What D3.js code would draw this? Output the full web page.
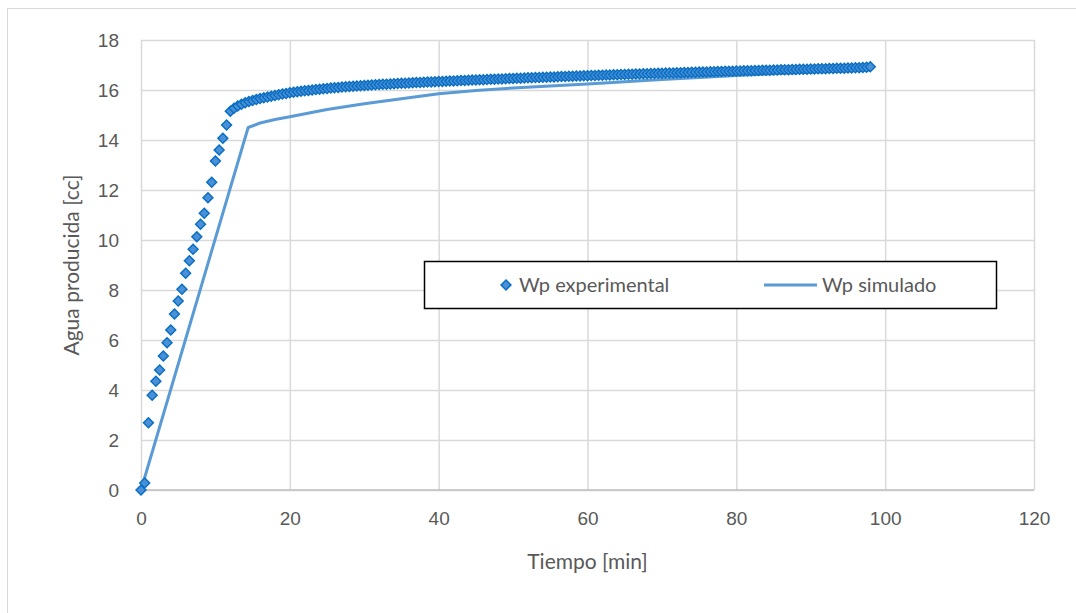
<!DOCTYPE html>
<html>
<head>
<meta charset="utf-8">
<script src="https://cdn.jsdelivr.net/npm/d3@7"></script>
<style>
    body { margin: 0; background: #fff; }
    svg { display: block; font-family: Lato, 'Open Sans', sans-serif; }
    .tick text { fill: #595959; font-size: 19px; }
    .grid line { stroke: #d9d9d9; stroke-width: 1.5; }
    .axis-title { fill: #595959; font-size: 21px; }
    .legend-label { fill: #595959; font-size: 20px; }
</style>
</head>
<body>
<div id="chart"></div>
<script>
// tiempo [min] y agua producida [cc]
const expTime = [
    0, 0.5, 1, 1.5, 2, 2.5, 3, 3.5, 4, 4.5,
    5, 5.5, 6, 6.5, 7, 7.5, 8, 8.5, 9, 9.5,
    10, 10.5, 11, 11.5,
    12, 12.5, 13, 13.5, 14, 14.5, 15, 15.5, 16, 16.5,
    17, 17.5, 18, 18.5, 19, 19.5, 20, 20.5, 21, 21.5,
    22, 22.5, 23, 23.5, 24, 24.5, 25, 25.5, 26, 26.5,
    27, 27.5, 28, 28.5, 29, 29.5, 30, 30.5, 31, 31.5,
    32, 32.5, 33, 33.5, 34, 34.5, 35, 35.5, 36, 36.5,
    37, 37.5, 38, 38.5, 39, 39.5, 40, 40.5, 41, 41.5,
    42, 42.5, 43, 43.5, 44, 44.5, 45, 45.5, 46, 46.5,
    47, 47.5, 48, 48.5, 49, 49.5, 50, 50.5, 51, 51.5,
    52, 52.5, 53, 53.5, 54, 54.5, 55, 55.5, 56, 56.5,
    57, 57.5, 58, 58.5, 59, 59.5, 60, 60.5, 61, 61.5,
    62, 62.5, 63, 63.5, 64, 64.5, 65, 65.5, 66, 66.5,
    67, 67.5, 68, 68.5, 69, 69.5, 70, 70.5, 71, 71.5,
    72, 72.5, 73, 73.5, 74, 74.5, 75, 75.5, 76, 76.5,
    77, 77.5, 78, 78.5, 79, 79.5, 80, 80.5, 81, 81.5,
    82, 82.5, 83, 83.5, 84, 84.5, 85, 85.5, 86, 86.5,
    87, 87.5, 88, 88.5, 89, 89.5, 90, 90.5, 91, 91.5,
    92, 92.5, 93, 93.5, 94, 94.5, 95, 95.5, 96, 96.5,
    97, 97.5, 98,
];
const expWater = [
    0, 0.28, 2.69, 3.79, 4.35, 4.8, 5.36, 5.89, 6.4, 7.04,
    7.56, 8.03, 8.67, 9.17, 9.63, 10.13, 10.63, 11.07, 11.69, 12.31,
    13.16, 13.6, 14.07, 14.6,
    15.15, 15.27, 15.36, 15.43, 15.49, 15.54, 15.58, 15.62, 15.66, 15.69,
    15.72, 15.75, 15.78, 15.81, 15.84, 15.86, 15.89, 15.91, 15.93, 15.95,
    15.97, 15.98, 16.00, 16.02, 16.03, 16.05, 16.06, 16.08, 16.09, 16.10,
    16.12, 16.13, 16.14, 16.15, 16.16, 16.17, 16.18, 16.19, 16.20, 16.21,
    16.22, 16.23, 16.23, 16.24, 16.25, 16.26, 16.27, 16.27, 16.28, 16.29,
    16.30, 16.30, 16.31, 16.32, 16.32, 16.33, 16.34, 16.34, 16.35, 16.36,
    16.36, 16.37, 16.38, 16.38, 16.39, 16.40, 16.40, 16.41, 16.41, 16.42,
    16.43, 16.43, 16.44, 16.44, 16.45, 16.46, 16.46, 16.47, 16.47, 16.48,
    16.49, 16.49, 16.50, 16.50, 16.51, 16.51, 16.52, 16.52, 16.53, 16.54,
    16.54, 16.55, 16.55, 16.56, 16.56, 16.57, 16.57, 16.58, 16.58, 16.59,
    16.59, 16.60, 16.60, 16.61, 16.61, 16.62, 16.62, 16.63, 16.63, 16.64,
    16.64, 16.65, 16.65, 16.66, 16.66, 16.67, 16.67, 16.68, 16.68, 16.68,
    16.69, 16.69, 16.70, 16.70, 16.71, 16.71, 16.72, 16.72, 16.72, 16.73,
    16.73, 16.74, 16.74, 16.75, 16.75, 16.75, 16.76, 16.76, 16.77, 16.77,
    16.77, 16.78, 16.78, 16.79, 16.79, 16.79, 16.80, 16.80, 16.81, 16.81,
    16.81, 16.82, 16.82, 16.83, 16.83, 16.83, 16.84, 16.84, 16.85, 16.85,
    16.85, 16.86, 16.86, 16.87, 16.87, 16.87, 16.88, 16.88, 16.89, 16.89,
    16.90, 16.91, 16.93,
];
const simTime = [0, 14.4, 16, 18, 20, 25, 30, 35, 40, 45, 50, 55, 60, 65, 70, 75, 80, 85, 90, 98];
const simWater = [0, 14.5, 14.68, 14.82, 14.93, 15.22, 15.45, 15.65, 15.85, 15.98, 16.08, 16.16, 16.24, 16.33, 16.42, 16.5, 16.58, 16.65, 16.71, 16.8];
const xTicks = [0, 20, 40, 60, 80, 100, 120];
const yTicks = [0, 2, 4, 6, 8, 10, 12, 14, 16, 18];
const seriesNames = ['Wp experimental', 'Wp simulado'];

const WIDTH = 1076;
const HEIGHT = 613;
const margin = { top: 40, right: 42, bottom: 123, left: 141 };
const plotW = WIDTH - margin.left - margin.right;
const plotH = HEIGHT - margin.top - margin.bottom;
const BLUE_LINE = '#5b9bd5';
const BLUE_MARK = '#4a90d9';
const BLUE_EDGE = '#0a6fc2';

const svg = d3.select('#chart')
    .append('svg')
    .attr('width', WIDTH)
    .attr('height', HEIGHT);

// borde del area del grafico
svg.append('rect')
    .attr('x', 7.5)
    .attr('y', 8.5)
    .attr('width', WIDTH + 20)
    .attr('height', HEIGHT + 20)
    .attr('fill', 'none')
    .attr('stroke', '#d9d9d9')
    .attr('stroke-width', 1);

const g = svg.append('g')
    .attr('transform', `translate(${margin.left}, ${margin.top})`);

const x = d3.scaleLinear().domain([0, 120]).range([0, plotW]);
const y = d3.scaleLinear().domain([0, 18]).range([plotH, 0]);

g.append('g')
    .attr('class', 'grid')
    .call(d3.axisLeft(y).tickValues(yTicks).tickSize(-plotW).tickFormat(''))
    .call(a => a.select('.domain').remove());

g.append('g')
    .attr('class', 'grid')
    .attr('transform', `translate(0,${plotH})`)
    .call(d3.axisBottom(x).tickValues(xTicks).tickSize(plotH).tickFormat(''))
    .call(a => a.selectAll('line').attr('y2', -plotH))
    .call(a => a.select('.domain').remove());

g.append('line')
    .attr('x1', 0).attr('x2', plotW)
    .attr('y1', plotH).attr('y2', plotH)
    .attr('stroke', '#bfbfbf')
    .attr('stroke-width', 1.5);

g.append('g')
    .attr('class', 'y axis')
    .call(d3.axisLeft(y).tickValues(yTicks).tickSize(0).tickPadding(22))
    .call(a => a.select('.domain').remove());

g.append('g')
    .attr('class', 'x axis')
    .attr('transform', `translate(0,${plotH})`)
    .call(d3.axisBottom(x).tickValues(xTicks).tickSize(0).tickPadding(22))
    .call(a => a.select('.domain').remove());

g.append('text')
    .attr('class', 'axis-title')
    .attr('x', plotW / 2)
    .attr('y', plotH + 79)
    .attr('text-anchor', 'middle')
    .text('Tiempo [min]');

g.append('text')
    .attr('class', 'axis-title')
    .attr('transform', `translate(${-62},${plotH / 2}) rotate(-90)`)
    .attr('text-anchor', 'middle')
    .text('Agua producida [cc]');

const simData = simTime.map((t, i) => ({ t, v: simWater[i] }));
const expData = expTime.map((t, i) => ({ t, v: expWater[i] }));

const line = d3.line()
    .x(d => x(d.t))
    .y(d => y(d.v))
    .curve(d3.curveLinear);

g.append('path')
    .datum(simData)
    .attr('fill', 'none')
    .attr('stroke', BLUE_LINE)
    .attr('stroke-width', 3)
    .attr('stroke-linejoin', 'round')
    .attr('d', line);

const diamond = d3.symbol().type(d3.symbolDiamond2).size(62);

g.selectAll('.marker')
    .data(expData)
    .enter()
    .append('path')
    .attr('class', 'marker')
    .attr('d', diamond)
    .attr('transform', d => `translate(${x(d.t)},${y(d.v)})`)
    .attr('fill', BLUE_MARK)
    .attr('stroke', BLUE_EDGE)
    .attr('stroke-width', 1.5);

// leyenda
const legend = svg.append('g')
    .attr('transform', 'translate(424, 261)');

legend.append('rect')
    .attr('x', 0.5).attr('y', 0.5)
    .attr('width', 572).attr('height', 47)
    .attr('fill', '#fff')
    .attr('stroke', '#000')
    .attr('stroke-width', 1.5);

legend.append('path')
    .attr('d', diamond)
    .attr('transform', 'translate(82, 24)')
    .attr('fill', BLUE_MARK)
    .attr('stroke', BLUE_EDGE)
    .attr('stroke-width', 1.5);

legend.append('line')
    .attr('x1', 340).attr('x2', 393)
    .attr('y1', 24).attr('y2', 24)
    .attr('stroke', BLUE_LINE)
    .attr('stroke-width', 3);

legend.selectAll('.legend-label')
    .data(seriesNames)
    .enter()
    .append('text')
    .attr('class', 'legend-label')
    .attr('x', (d, i) => (i === 0 ? 95 : 398))
    .attr('y', 31)
    .text(d => d);
</script>
</body>
</html>
